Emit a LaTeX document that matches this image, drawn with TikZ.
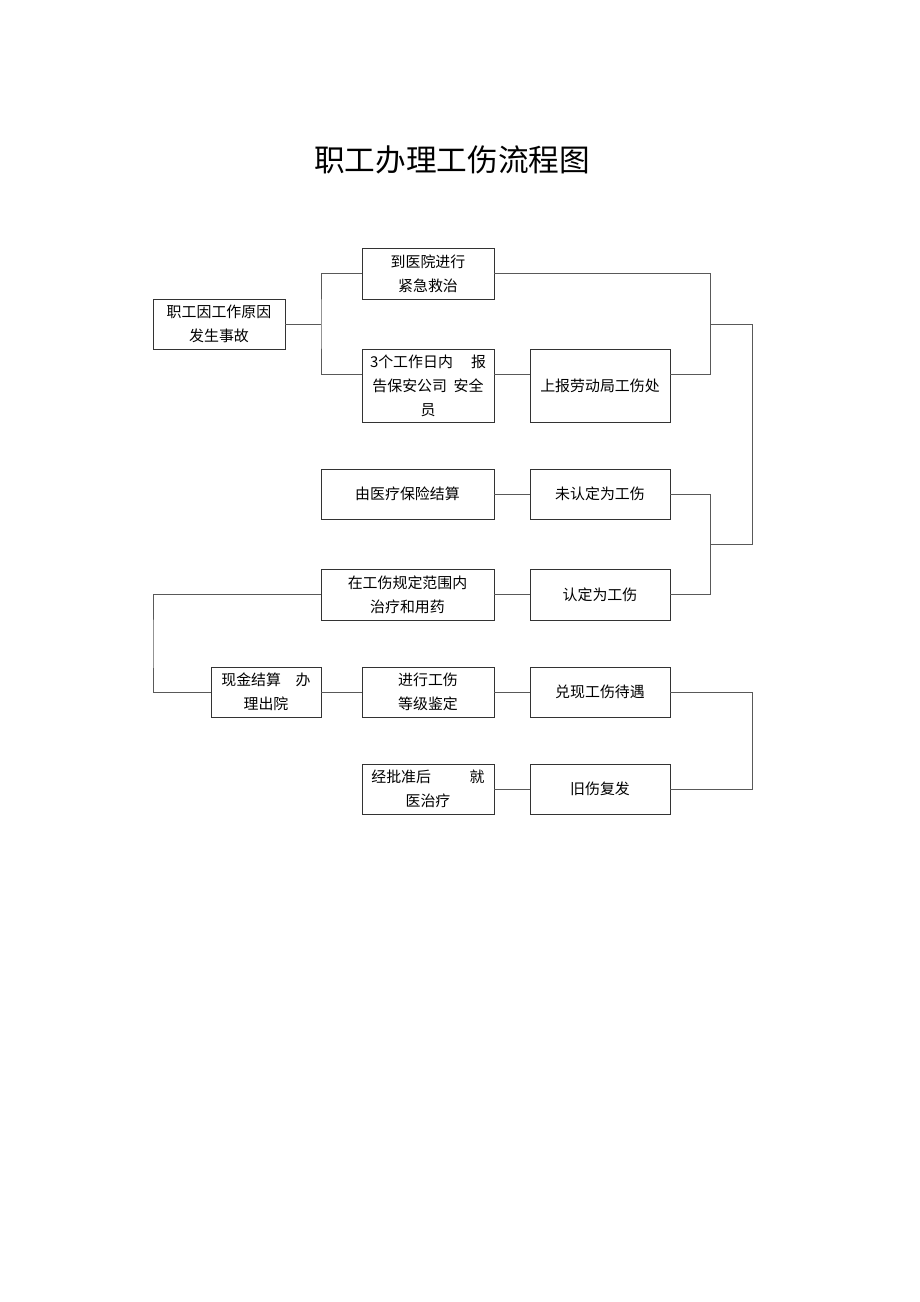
\documentclass[tikz,border=0pt]{standalone}
\usepackage{fontspec}
\setmainfont{Noto Sans CJK SC}
\usetikzlibrary{calc}
\tikzset{
  box/.style 2 args={draw=black!80,line width=.6pt,inner sep=0pt,align=center,
    minimum width=#1*.75pt,minimum height=#2*.75pt,
    font=\fontsize{11.2pt}{18pt}\selectfont},
  link/.style={draw=black!65,line width=.7pt}
}
\begin{document}
\begin{tikzpicture}[x=.75pt,y=-.75pt]
\useasboundingbox(0,0)rectangle(920,1302);
%title
\node[font=\fontsize{23pt}{23pt}\selectfont](title)at(452,160){职工办理工伤流程图};
%boxes
\node[box={132}{50}](A)at(219,324){职工因工作原因\\发生事故};
\node[box={132}{51}](B)at(428,273.5){到医院进行\\紧急救治};
\node[box={132}{73},text width=87pt](C)at(428,385.5){3个工作日内\hfill 报\\告保安公司\hspace{5pt}安全\\员};
\node[box={140}{73}](D)at(600,385.5){上报劳动局工伤处};
\node[box={173}{50}](E)at(407.5,494){由医疗保险结算};
\node[box={140}{50}](F)at(600,494){未认定为工伤};
\node[box={173}{51}](G)at(407.5,594.5){在工伤规定范围内\\治疗和用药};
\node[box={140}{51}](H)at(600,594.5){认定为工伤};
\node[box={110}{50},text width=67pt](I)at(266,692){现金结算\hfill 办\\理出院};
\node[box={132}{50}](J)at(428,692){进行工伤\\等级鉴定};
\node[box={140}{50}](K)at(600,692){兑现工伤待遇};
\node[box={132}{50},text width=85pt](L)at(428,789){经批准后\hfill 就\\医治疗};
\node[box={140}{50}](M)at(600,789){旧伤复发};
%junctions
\coordinate(jl)at(321,324);
\coordinate(jr)at(710,324);
\coordinate(rt)at(752,324);
\coordinate(rb)at(752,544);
\coordinate(jm)at(710,544);
\coordinate(lb)at(153,644);
\coordinate(kr)at(752,740);
%connectors
\draw[link](A)--(jl);
\draw[link](B.west)-|(jl)|-([yshift=8.6pt]C.west);
\draw[link]([yshift=8.6pt]C.east)--([yshift=8.6pt]D.west);
\draw[link](B.east)-|(jr)|-([yshift=8.6pt]D.east);
\draw[link](jr)--(rt)--(rb)--(jm);
\draw[link](F)-|(jm)|-(H);
\draw[link](E)--(F);
\draw[link](G)--(H);
\draw[link](G)-|(lb)|-(I);
\draw[link](I)--(J)--(K);
\draw[link](K)-|(kr)|-(M);
\draw[link](L)--(M);
\end{tikzpicture}
\end{document}
